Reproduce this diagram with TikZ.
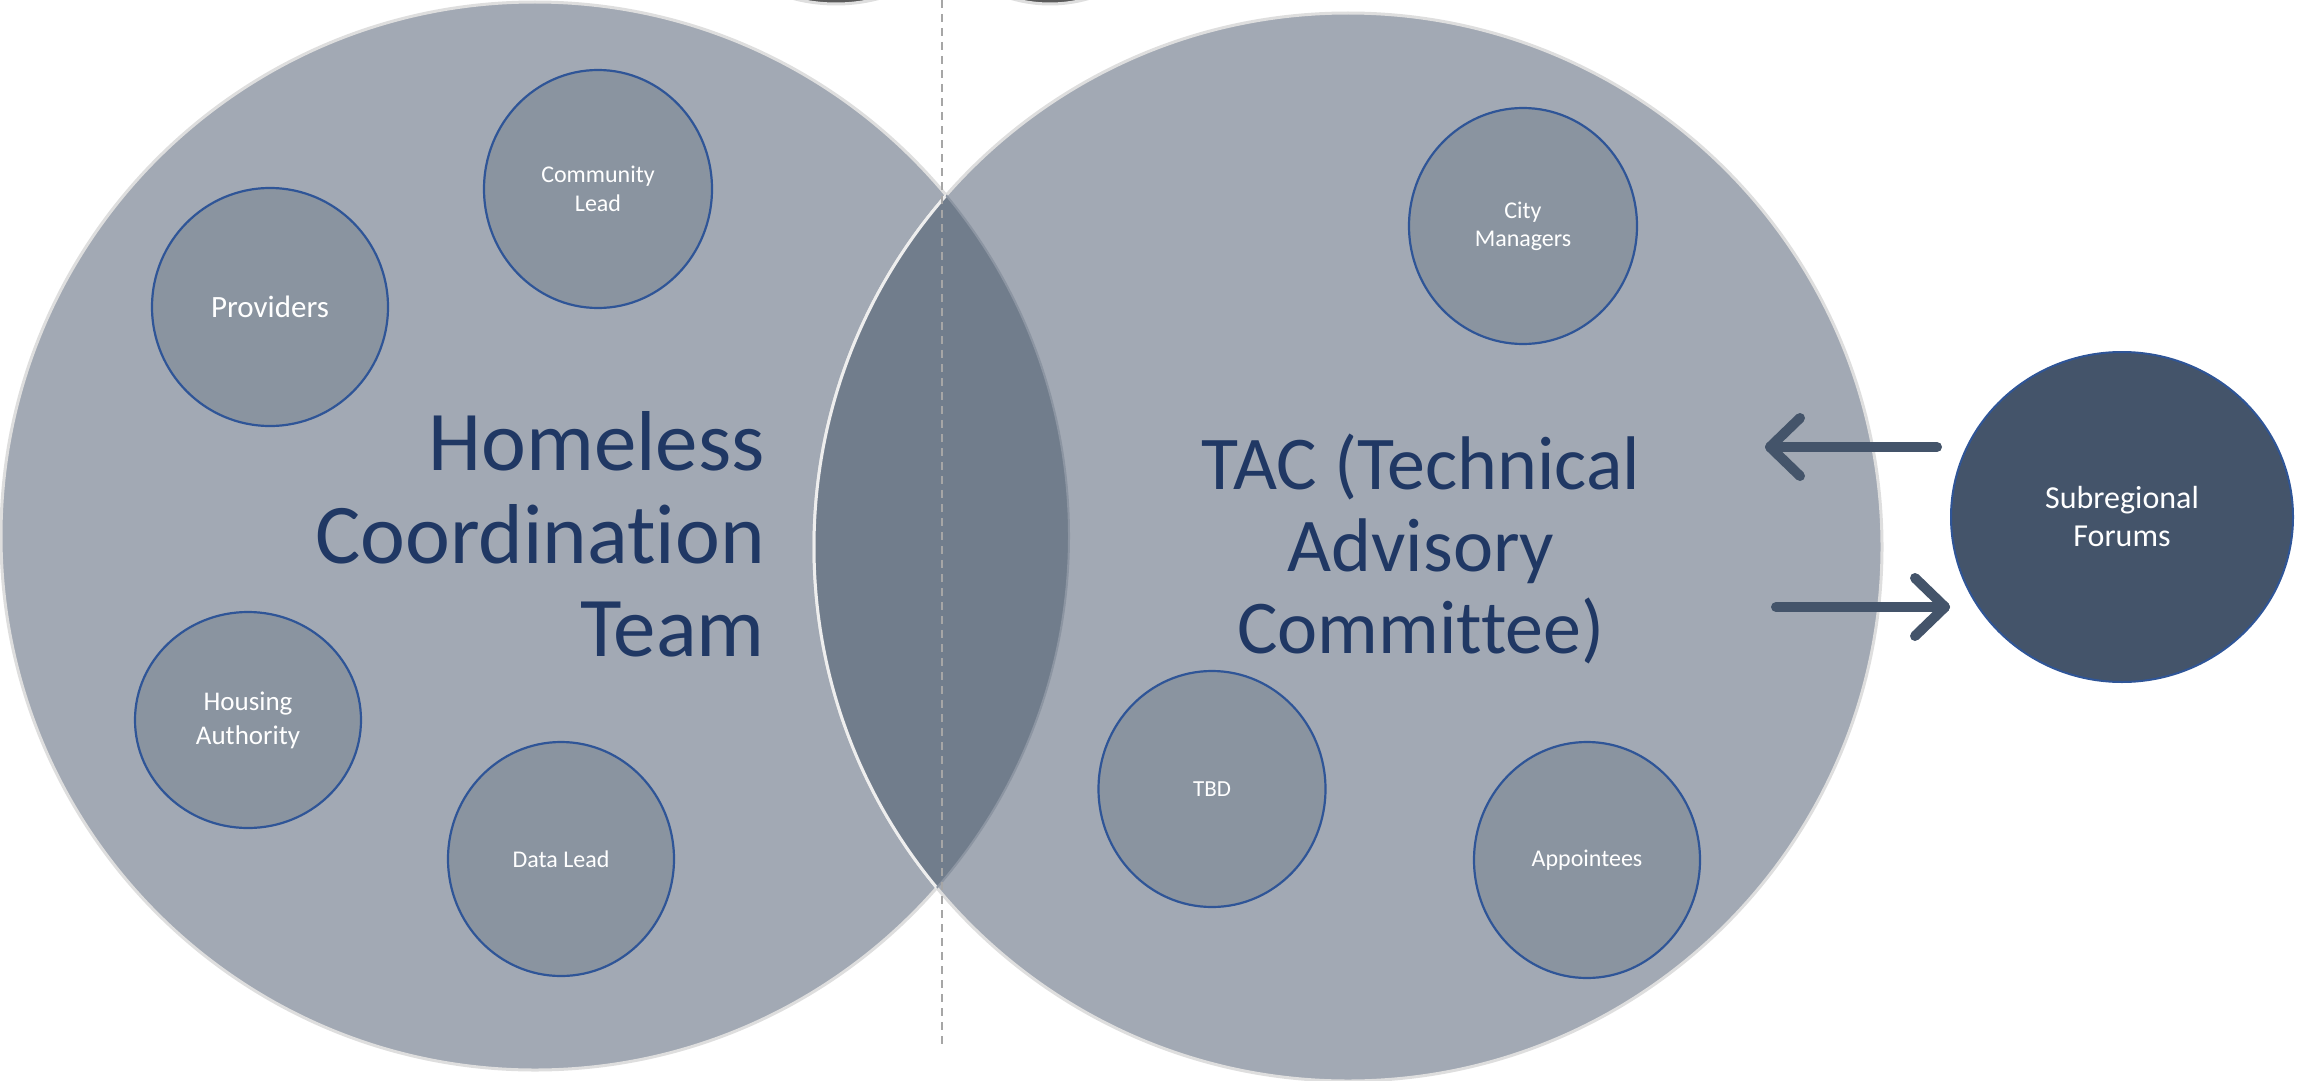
\documentclass[tikz,border=0pt]{standalone}
\usepackage{fontspec}
\setmainfont{Carlito}[Ligatures=NoCommon]
\usetikzlibrary{shapes.geometric,calc}
\definecolor{bigfill}{HTML}{A2A9B4}
\definecolor{lensfill}{HTML}{717D8C}
\definecolor{smallfill}{HTML}{8A94A0}
\definecolor{smallborder}{HTML}{2F5597}
\definecolor{navy}{HTML}{203864}
\definecolor{forum}{HTML}{44546A}
\definecolor{rim}{HTML}{DEDEDE}
\definecolor{lensrim}{HTML}{EEEEEE}
\definecolor{lensrimdark}{HTML}{8C95A2}
\definecolor{dashgray}{HTML}{A6A6A6}
\definecolor{topdark}{HTML}{5A5A5A}
\begin{document}
\begin{tikzpicture}[x=1pt,y=-1pt,
  bigcircle/.style={fill=bigfill, draw=rim, line width=3pt},
  member/.style={ellipse, draw=smallborder, line width=2.2pt, fill=smallfill,
    text=white, align=center, inner sep=0pt},
  title/.style={text=navy, inner sep=0pt},
  arrowline/.style={draw=forum, line width=10pt, line cap=round, line join=round},
  divider/.style={draw=dashgray, line width=2pt, dash pattern=on 8pt off 6pt}]
\useasboundingbox (0,0) rectangle (2305,1081);
% partial circles peeking in at the top
\fill[topdark, draw=rim, line width=3pt] (836,-164) circle[radius=168pt];
\fill[topdark, draw=rim, line width=3pt] (1050,-134) circle[radius=138pt];
% two big circles
\coordinate (L) at (535,536);
\coordinate (R) at (1348,547);
\path[bigcircle] (L) circle[radius=534pt];
\path[bigcircle] (R) circle[radius=534pt];
\begin{scope}
  \clip (L) circle[radius=534pt];
  \fill[lensfill] (R) circle[radius=534pt];
  \draw[lensrim, line width=3pt] (R) circle[radius=534pt];
\end{scope}
\begin{scope}
  \clip (R) circle[radius=534pt];
  \draw[lensrimdark, line width=2pt] (L) circle[radius=534pt];
\end{scope}
% divider
\coordinate (dtop) at (942,0);
\coordinate (dbot) at (942,1045);
\draw[divider] (dtop) -- (dbot);
% titles
\node[title, align=right, anchor=east, font=\fontsize{85}{93}\selectfont] (hct) at (765,534) {Homeless\\Coordination\\Team};
\node[title, align=center, font=\fontsize{76}{82}\selectfont] (tac) at (1421,549) {TAC (Technical\\Advisory\\Committee)};
% members left
\node[member, minimum width=228pt, minimum height=238pt, font=\fontsize{24}{29}\selectfont] (community) at (598,189) {Community\\Lead};
\node[member, minimum width=236pt, minimum height=238pt, font=\fontsize{31}{36}\selectfont] (providers) at (270,307) {Providers};
\node[member, minimum width=226pt, minimum height=216pt, font=\fontsize{27}{34}\selectfont] (housing) at (248,720) {Housing\\Authority};
\node[member, minimum width=226pt, minimum height=234pt, font=\fontsize{24}{29}\selectfont] (data) at (561,859) {Data Lead};
% members right
\node[member, minimum width=228pt, minimum height=236pt, font=\fontsize{24}{28}\selectfont] (city) at (1523,226) {City\\Managers};
\node[member, minimum width=227pt, minimum height=236pt, font=\fontsize{23}{28}\selectfont] (tbd) at (1212,789) {TBD};
\node[member, minimum width=226pt, minimum height=236pt, font=\fontsize{24}{28}\selectfont] (appointees) at (1587,860) {Appointees};
% subregional forums
\node[ellipse, fill=forum, draw=smallborder, line width=2pt, text=white, align=center,
  minimum width=342pt, minimum height=330pt, inner sep=0pt,
  font=\fontsize{32}{38}\selectfont] (forums) at (2122,517) {Subregional\\Forums};
% arrows
\coordinate (inStart) at (1937,447);
\coordinate (inTip) at (1770,447);
\coordinate (outStart) at (1776,607);
\coordinate (outTip) at (1945,607);
\draw[arrowline] (inStart) -- (inTip);
\draw[arrowline] ($(inTip)+(30,-29)$) -- (inTip) -- ($(inTip)+(30,29)$);
\draw[arrowline] (outStart) -- (outTip);
\draw[arrowline] ($(outTip)+(-30,-29)$) -- (outTip) -- ($(outTip)+(-30,29)$);
\end{tikzpicture}
\end{document}
